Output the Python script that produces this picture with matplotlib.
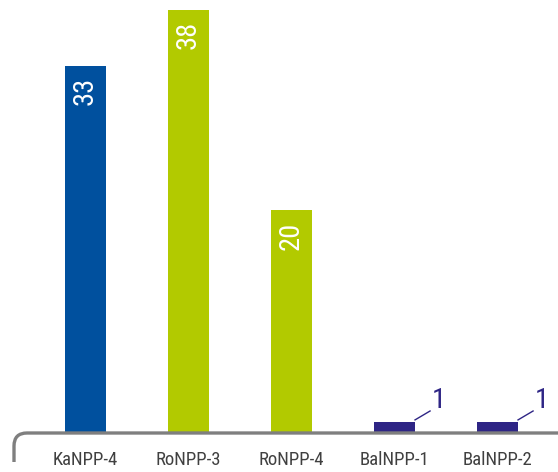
import numpy as np
import matplotlib.pyplot as plt
from matplotlib.path import Path
from matplotlib.patches import PathPatch
from matplotlib import font_manager

units = ['KaNPP-4', 'RoNPP-3', 'RoNPP-4', 'BalNPP-1', 'BalNPP-2']
values = [33, 38, 20, 1, 1]
colors = ['#00509e', '#b2ca00', '#b2ca00', '#2e2585', '#2e2585']

names = set(f.name for f in font_manager.fontManager.ttflist)
cands = ['Liberation Sans Narrow', 'DejaVu Sans Condensed', 'Roboto Condensed',
         'Open Sans Condensed', 'Noto Sans Condensed']
fam = [c for c in cands if c in names] + ['DejaVu Sans']
plt.rcParams['font.family'] = fam
stretch = 'condensed'

fig = plt.figure(figsize=(5.58, 4.72), dpi=100)
ax = fig.add_axes([0, 0, 1, 1])
x = np.arange(len(units))
ax.bar(x, values, width=0.398, color=colors)
ax.set_xlim(-0.830, 4.587)
ax.set_ylim(-3.50, 38.9)
ax.axis('off')

for i, v in enumerate(values):
    if v >= 5:
        ax.annotate(str(v), (i, v), xytext=(0, -8), textcoords='offset points',
                    rotation=90, ha='center', va='top', color='white', fontsize=20.5,
                    fontstretch=stretch)
    else:
        # small bar: value outside with a short leader line
        ax.plot([i + 0.199, i + 0.345], [v + 0.18, v + 0.98], color='#2e2585', lw=1)
        ax.text(i + 0.432, v + 1.25, str(v), ha='center', va='baseline',
                color='#2e2585', fontsize=20.5, fontstretch=stretch)
    ax.text(i, -1.6, units[i], ha='center', va='top', fontsize=13.5,
            color='#404040', fontstretch=stretch)

# rounded axis bracket
trans = ax.transAxes
x0 = 14 / 558
yb = (472 - 433) / 472
yd = (472 - 462) / 472
r = 13
verts = [(x0, yd), (x0, yb - r / 472), (x0, yb), (x0 + r / 558, yb), (1.0, yb)]
codes = [Path.MOVETO, Path.LINETO, Path.CURVE3, Path.CURVE3, Path.LINETO]
ax.add_patch(PathPatch(Path(verts, codes), transform=trans, fill=False,
                       edgecolor='#7f7f7f', lw=2.4, clip_on=False))

fig.savefig('out.png', dpi=100)
